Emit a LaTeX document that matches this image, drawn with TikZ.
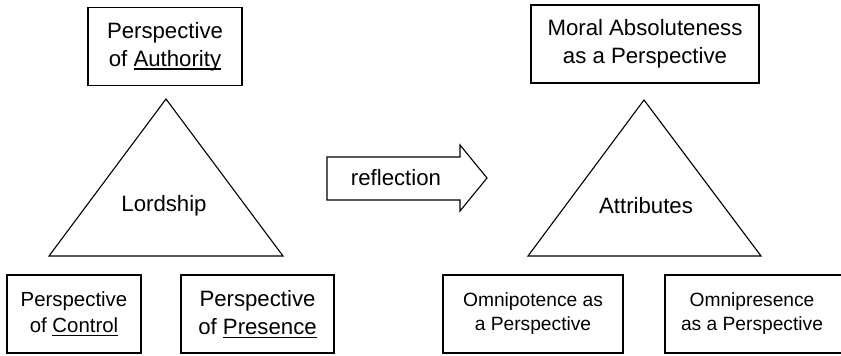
\documentclass[tikz,border=0pt]{standalone}
\usepackage{fontspec}
\setmainfont{Liberation Sans}
\newcommand{\lined}[1]{\setbox0\hbox{#1}\rlap{\rule[-1.7pt]{\wd0}{.6pt}}\box0}
\begin{document}
\begin{tikzpicture}[x=.5pt,y=-.5pt,
                    line/.style={line width=.55pt},
                    box/.style={draw,line width=.55pt,inner sep=0pt,align=center,minimum height=39pt},
                    big/.style={font=\fontsize{11.1}{14}\selectfont},
                    mid/.style={font=\fontsize{10.2}{13}\selectfont},
                    small/.style={font=\fontsize{9.6}{12}\selectfont}]
 \useasboundingbox (0,0) rectangle (841,355);
 \clip (0,0) rectangle (841,355);
 % lordship triangle
 \coordinate (la) at (166,99); \coordinate (lb) at (49,256); \coordinate (lc) at (283,256);
 \draw[line] (la)--(lb)--(lc)--cycle;
 \node[big] (lordship) at (164,206) {Lordship};
 \node[box,big,minimum width=77pt] (authority) at (165,46.5) {Perspective\\of \lined{Authority}};
 \node[box,mid,minimum width=67pt] (control) at (74,314) {Perspective\\of \lined{Control}};
 \node[box,big,minimum width=76.5pt] (presence) at (257.5,314) {Perspective\\of \lined{Presence}};
 % reflection arrow
 \coordinate (r1) at (327,157); \coordinate (r2) at (460,157); \coordinate (r3) at (460,145);
 \coordinate (r4) at (487,178);
 \coordinate (r5) at (460,211); \coordinate (r6) at (460,200); \coordinate (r7) at (327,200);
 \draw[line] (r1)--(r2)--(r3)--(r4)--(r5)--(r6)--(r7)--cycle;
 \node[big] (reflection) at (396,178) {reflection};
 % attributes triangle
 \coordinate (ra) at (644,100); \coordinate (rb) at (528,256); \coordinate (rc) at (761,256);
 \draw[line] (ra)--(rb)--(rc)--cycle;
 \node[big] (attributes) at (646,206) {Attributes};
 \node[box,big,minimum width=114pt] (moral) at (645,44) {Moral Absoluteness\\as a Perspective};
 \node[box,small,minimum width=90pt] (omnipotence) at (533,314) {Omnipotence as\\a Perspective};
 % cut off by the page edge
 \draw[line] (860,275) rectangle (665,353);
 \node[small,align=center] (omnipresence) at (752,314) {Omnipresence\\as a Perspective};
\end{tikzpicture}
\end{document}
